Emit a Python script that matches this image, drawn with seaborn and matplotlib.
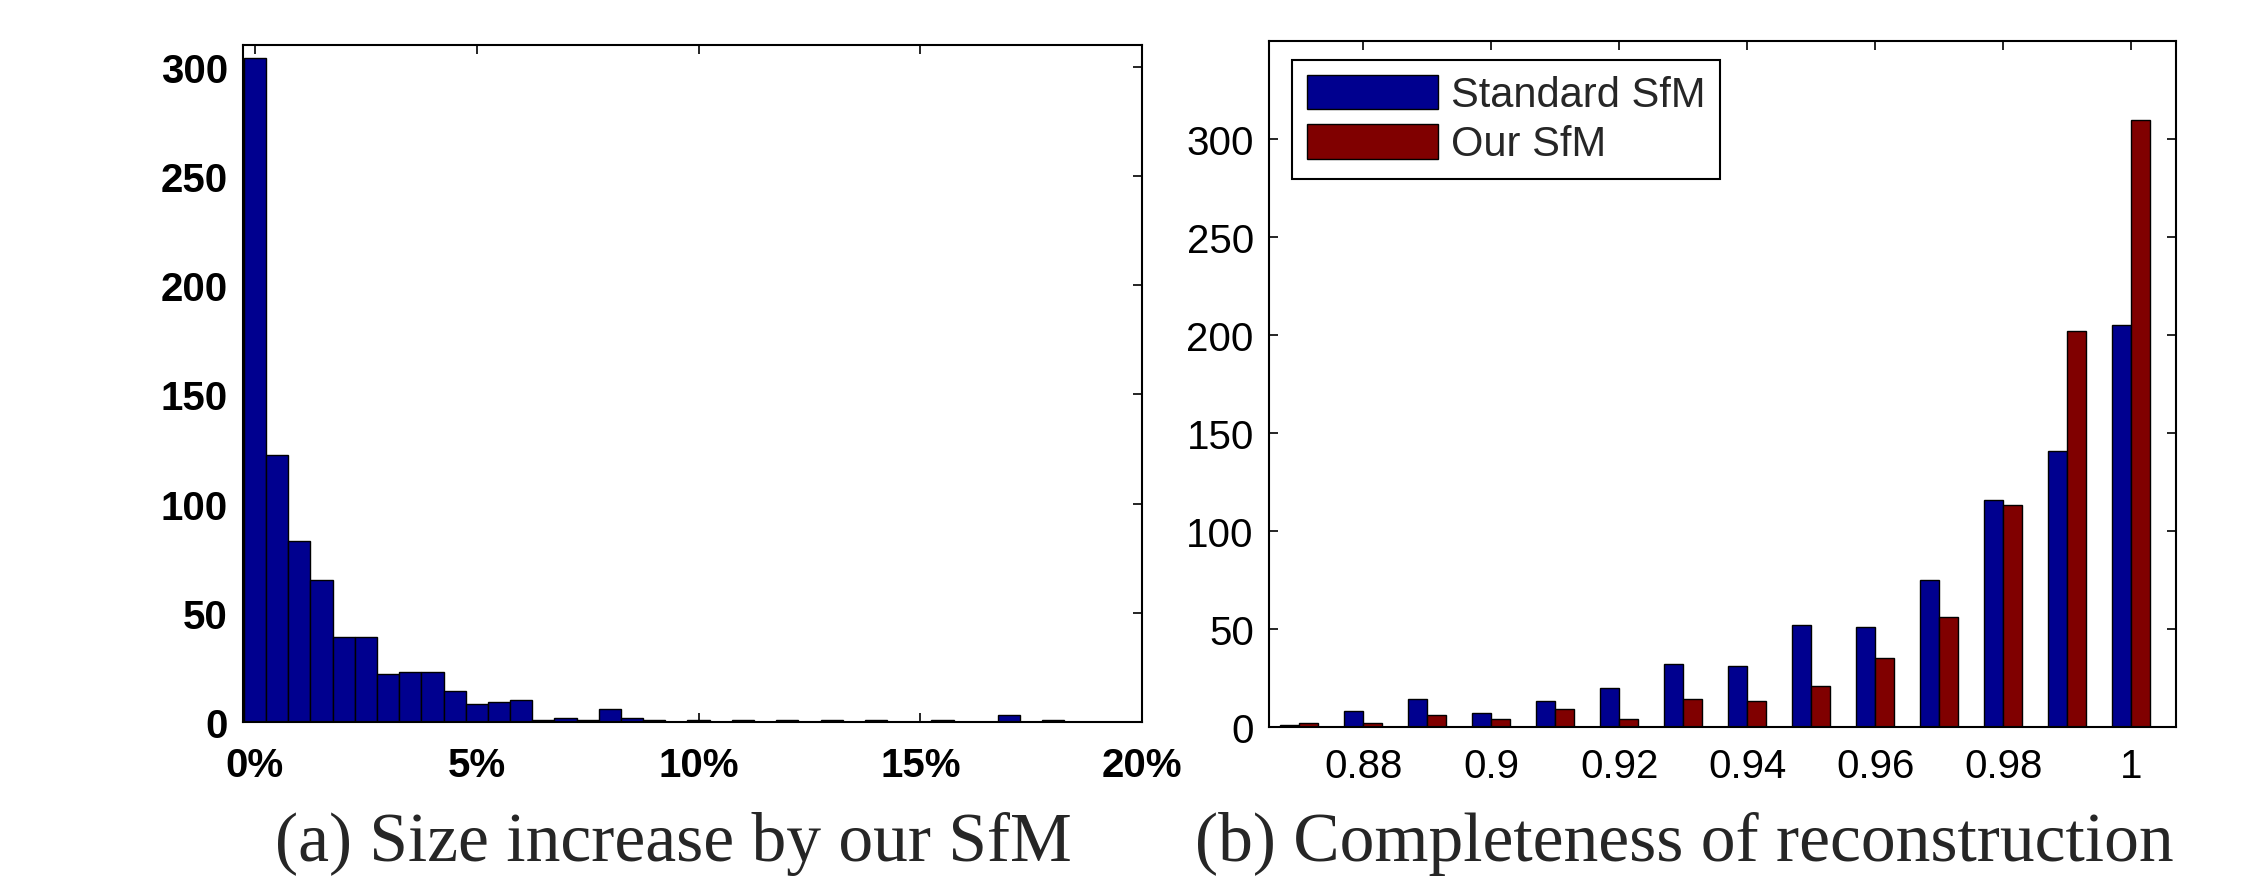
import numpy as np
import pandas as pd
import matplotlib
matplotlib.use("Agg")
import matplotlib.pyplot as plt
from matplotlib.ticker import FuncFormatter
import seaborn as sns

# ---------------- data ----------------
# (a) histogram of size increase (%), bins of 0.5 % centred at 0, 0.5, 1, ...
size_bin_centers = [0.0, 0.5, 1.0, 1.5, 2.0, 2.5, 3.0, 3.5, 4.0, 4.5,
                    5.0, 5.5, 6.0, 6.5, 7.0, 7.5, 8.0, 8.5, 9.0, 9.5,
                    10.0, 10.5, 11.0, 11.5, 12.0, 12.5, 13.0, 13.5, 14.0, 14.5,
                    15.0, 15.5, 16.0, 16.5, 17.0, 17.5, 18.0, 18.5, 19.0, 19.5]
size_counts = [304, 122, 83, 65, 39, 39, 22, 23, 23, 14,
               8, 9, 10, 1, 2, 1, 6, 2, 1, 0,
               1, 0, 1, 0, 1, 0, 1, 0, 1, 0,
               0, 1, 0, 0, 3, 0, 1, 0, 0, 0]
size_xticks = [0, 5, 10, 15, 20]
size_yticks = [0, 50, 100, 150, 200, 250, 300]

# (b) completeness of reconstruction
completeness = [0.87, 0.88, 0.89, 0.90, 0.91, 0.92, 0.93,
                0.94, 0.95, 0.96, 0.97, 0.98, 0.99, 1.00]
standard_sfm = [1, 8, 14, 7, 13, 20, 32, 31, 52, 51, 75, 116, 141, 205]
our_sfm = [2, 2, 6, 4, 9, 4, 14, 13, 21, 35, 56, 113, 202, 310]
series_names = ["Standard SfM", "Our SfM"]
comp_xticks = [0.88, 0.90, 0.92, 0.94, 0.96, 0.98, 1.00]
comp_yticks = [0, 50, 100, 150, 200, 250, 300]

captions = ["(a) Size increase by our SfM", "(b) Completeness of reconstruction"]

BLUE = "#00008F"
RED = "#800000"

# ---------------- style ----------------
sns.set_style("white")
plt.rcParams["font.family"] = ["Liberation Sans", "DejaVu Sans"]
plt.rcParams["axes.edgecolor"] = "black"
plt.rcParams["axes.linewidth"] = 1.5

fig = plt.figure(figsize=(22.67, 8.79), dpi=100)
ax1 = fig.add_axes([0.1072, 0.1775, 0.3966, 0.7705])
ax2 = fig.add_axes([0.5598, 0.1721, 0.4001, 0.7798])

# ---------------- panel (a) ----------------
hist_df = pd.DataFrame({"size": size_bin_centers, "n": size_counts})
edges = [float(e) for e in np.arange(-0.25, 20.25 + 1e-9, 0.5)]
sns.histplot(data=hist_df, x="size", weights="n", bins=edges,
             color=BLUE, alpha=1.0, edgecolor="black", linewidth=1.0,
             ax=ax1)
ax1.set_xlim(-0.27, 20.0)
ax1.set_ylim(0, 310)
ax1.set_xticks(size_xticks)
ax1.set_yticks(size_yticks)
ax1.xaxis.set_major_formatter(FuncFormatter(lambda v, p: f"{v:g}%"))
ax1.set_xlabel("")
ax1.set_ylabel("")
ax1.tick_params(axis="both", direction="in", length=6.5, width=1.2,
                top=True, right=True, bottom=True, left=True,
                labelsize=29, colors="black")
ax1.tick_params(axis="y", pad=11)
ax1.tick_params(axis="x", pad=17)
for lab in ax1.get_xticklabels() + ax1.get_yticklabels():
    lab.set_fontweight("bold")

# ---------------- panel (b) ----------------
df = pd.DataFrame({
    "completeness": np.round(np.array(completeness + completeness), 2),
    "count": standard_sfm + our_sfm,
    "method": [series_names[0]] * len(standard_sfm) + [series_names[1]] * len(our_sfm),
})
sns.barplot(data=df, x="completeness", y="count", hue="method",
            hue_order=series_names, palette=[BLUE, RED],
            native_scale=True, width=0.6, saturation=1.0,
            edgecolor="black", linewidth=1.0, errorbar=None, ax=ax2)
ax2.set_xlim(0.8653, 1.007)
ax2.set_ylim(0, 350)
ax2.set_xticks(comp_xticks)
ax2.set_yticks(comp_yticks)
ax2.xaxis.set_major_formatter(FuncFormatter(lambda v, p: f"{round(v, 4):g}"))
ax2.set_xlabel("")
ax2.set_ylabel("")
ax2.tick_params(axis="both", direction="in", length=6.5, width=1.2,
                top=True, right=True, bottom=True, left=True,
                labelsize=29, colors="black")
ax2.tick_params(axis="y", pad=11)
ax2.tick_params(axis="x", pad=14.5)

handles, labels = ax2.get_legend_handles_labels()
if ax2.get_legend() is not None:
    ax2.get_legend().remove()
leg = ax2.legend(handles, labels, loc="upper left",
                 bbox_to_anchor=(0.0255, 0.9727), borderaxespad=0,
                 fontsize=30, handlelength=3.14, handleheight=0.91,
                 handletextpad=0.31, borderpad=0.35, labelspacing=0.2,
                 fancybox=False, shadow=False, framealpha=1.0)
leg.get_frame().set_edgecolor("black")
leg.get_frame().set_linewidth(1.5)

for ax in (ax1, ax2):
    for sp in ax.spines.values():
        sp.set_visible(True)
        sp.set_color("black")
        sp.set_linewidth(1.5)

# ---------------- captions ----------------
fig.text(673.5 / 2267, 1 - 861 / 879, captions[0], ha="center", va="baseline",
         fontsize=50, family=["Liberation Serif", "DejaVu Serif"])
fig.text(1684.5 / 2267, 1 - 861 / 879, captions[1], ha="center", va="baseline",
         fontsize=50, family=["Liberation Serif", "DejaVu Serif"])

fig.savefig("out.png", dpi=100, facecolor="white")
